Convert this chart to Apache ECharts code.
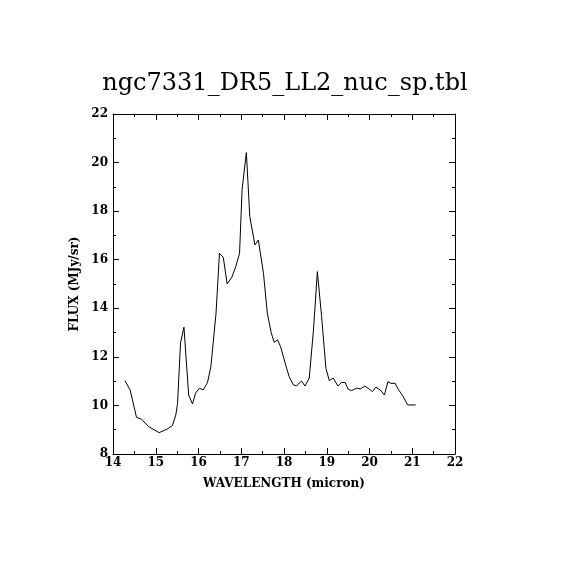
<!DOCTYPE html>
<html>
<head>
<meta charset="utf-8">
<script src="https://cdn.jsdelivr.net/npm/echarts@6/dist/echarts.min.js"></script>
<style>html,body{margin:0;padding:0;background:#fff;}#c{width:570px;height:570px;}</style>
</head>
<body>
<div id="c"></div>
<script>
const titleText = 'ngc7331_DR5_LL2_nuc_sp.tbl';
const xName = 'WAVELENGTH (micron)';
const yName = 'FLUX (MJy/sr)';
const wavelength = [14.28,14.40,14.55,14.67,14.83,15.08,15.26,15.39,15.47,15.51,15.58,15.66,15.77,15.86,15.93,16.02,16.11,16.21,16.29,16.41,16.49,16.58,16.67,16.78,16.87,16.96,17.02,17.12,17.20,17.32,17.40,17.52,17.61,17.70,17.77,17.85,17.92,18.05,18.12,18.22,18.30,18.41,18.49,18.59,18.69,18.78,18.88,18.98,19.06,19.15,19.26,19.35,19.43,19.50,19.58,19.70,19.79,19.89,19.99,20.07,20.15,20.25,20.35,20.43,20.50,20.60,20.67,20.79,20.89,21.08];
const flux = [11.02,10.64,9.51,9.43,9.13,8.88,9.02,9.17,9.61,10.09,12.58,13.22,10.43,10.06,10.50,10.71,10.64,10.94,11.60,13.80,16.26,16.10,15.00,15.28,15.71,16.26,18.90,20.41,17.77,16.61,16.81,15.44,13.80,13.00,12.60,12.70,12.42,11.60,11.19,10.84,10.81,11.01,10.80,11.12,13.11,15.51,13.66,11.53,11.02,11.13,10.80,10.95,10.94,10.67,10.61,10.71,10.68,10.80,10.68,10.57,10.75,10.64,10.43,10.98,10.91,10.91,10.67,10.36,10.02,10.02];
const xMin = 14, xMax = 22, xStep = 1;
const yMin = 8, yMax = 22, yStep = 2;

const data = wavelength.map((w, i) => [w, flux[i]]);
const font = 'DejaVu Serif';
const axisCommon = {
  axisLine: {show: true, onZero: false, lineStyle: {color: '#000', width: 1}},
  axisTick: {show: true, inside: true, length: 6, lineStyle: {color: '#000'}},
  minorTick: {show: true, splitNumber: 2, length: 3, lineStyle: {color: '#000'}},
  splitLine: {show: false}
};
const chart = echarts.init(document.getElementById('c'), null, {renderer: 'canvas'});
chart.setOption({
  animation: false,
  backgroundColor: '#fff',
  title: {
    text: titleText, left: 'center', top: 67,
    textStyle: {fontFamily: font, fontWeight: 'normal', fontSize: 24, color: '#000'}
  },
  grid: {left: 113, right: 115, top: 114, bottom: 116, containLabel: false},
  xAxis: [
    Object.assign({}, axisCommon, {
      type: 'value', position: 'bottom', min: xMin, max: xMax, interval: xStep,
      name: xName, nameLocation: 'middle', nameGap: 24,
      nameTextStyle: {fontFamily: font, fontWeight: 'bold', fontSize: 12, color: '#000'},
      axisLabel: {margin: 3, fontFamily: font, fontWeight: 'bold', fontSize: 12, color: '#000'}
    }),
    Object.assign({}, axisCommon, {
      type: 'value', position: 'top', min: xMin, max: xMax, interval: xStep,
      axisLabel: {show: false}
    })
  ],
  yAxis: [
    Object.assign({}, axisCommon, {
      type: 'value', position: 'left', min: yMin, max: yMax, interval: yStep,
      name: yName, nameLocation: 'middle', nameGap: 24,
      nameTextStyle: {fontFamily: font, fontWeight: 'bold', fontSize: 12, color: '#000'},
      axisLabel: {margin: 5, fontFamily: font, fontWeight: 'bold', fontSize: 12, color: '#000'}
    }),
    Object.assign({}, axisCommon, {
      type: 'value', position: 'right', min: yMin, max: yMax, interval: yStep,
      axisLabel: {show: false}
    })
  ],
  series: [{
    type: 'line', data: data, xAxisIndex: 0, yAxisIndex: 0,
    showSymbol: false, symbol: 'none',
    lineStyle: {color: '#000', width: 1}
  }]
});
</script>
</body>
</html>
